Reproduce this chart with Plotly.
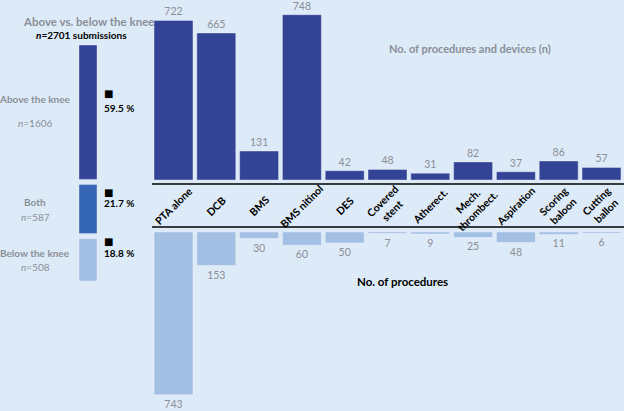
import plotly.graph_objects as go

# ---------------- data ----------------
categories = ["PTA alone", "DCB", "BMS", "BMS nitinol", "DES", "Covered stent",
              "Atherect.", "Mech. thrombect.", "Aspiration", "Scoring baloon", "Cutting ballon"]
category_labels = ["PTA alone", "DCB", "BMS", "BMS nitinol", "DES", "Covered<br>stent",
                   "Atherect.", "Mech.<br>thrombect.", "Aspiration", "Scoring<br>baloon", "Cutting<br>ballon"]
above_knee = [722, 665, 131, 748, 42, 48, 31, 82, 37, 86, 57]
below_knee = [743, 153, 30, 60, 50, 7, 9, 25, 48, 11, 6]

segments = ["Above the knee", "Both", "Below the knee"]
segment_n = [1606, 587, 508]
segment_pct = [59.5, 21.7, 18.8]
total_submissions = 2701

# ---------------- style ----------------
W, H = 624, 411
BG = "#DDEAF7"
DARK = "#334497"
MID = "#3567B6"
LIGHT = "#A3BFE4"
GREY = "#8A8F98"
FONT = "Lato"

def px(x):
    return x / W

def py(y):
    return 1 - y / H

fig = go.Figure()

# upper bars (above the knee)
fig.add_trace(go.Bar(
    x=categories, y=above_knee, width=0.91,
    marker=dict(color=DARK, line=dict(color="rgba(255,255,255,0.35)", width=1)),
    text=[str(v) for v in above_knee], textposition="outside", cliponaxis=False,
    textfont=dict(color=GREY, size=10.5, family=FONT),
    xaxis="x", yaxis="y", showlegend=False, hoverinfo="x+y"))

# lower bars (below the knee)
fig.add_trace(go.Bar(
    x=categories, y=below_knee, width=0.91,
    marker=dict(color=LIGHT, line=dict(color="rgba(255,255,255,0.35)", width=1)),
    text=[str(v) for v in below_knee], textposition="outside", cliponaxis=False,
    textfont=dict(color=GREY, size=10.5, family=FONT),
    xaxis="x2", yaxis="y2", showlegend=False, hoverinfo="x+y"))

# left stacked panel
gap = 60
bases = []
acc = 0
for n in segment_n:
    bases.append(acc)
    acc += n + gap
fig.add_trace(go.Bar(
    x=[0, 0, 0], y=segment_n, base=bases, width=0.91,
    marker=dict(color=[DARK, MID, LIGHT], line=dict(color="rgba(255,255,255,0.35)", width=1)),
    xaxis="x3", yaxis="y3", showlegend=False, hovertext=segments, hoverinfo="text+y"))

x_dom = [px(152.1), px(622.9)]
scale_top = 0.221
scale_bot = 0.219
scale_left = 0.0837
left_top = 45

fig.update_layout(
    width=W, height=H,
    margin=dict(l=0, r=0, t=0, b=0),
    paper_bgcolor=BG, plot_bgcolor="rgba(0,0,0,0)",
    font=dict(family=FONT),
    barmode="overlay",
    xaxis=dict(domain=x_dom, range=[-0.5, 10.5], visible=False, type="category"),
    yaxis=dict(domain=[py(180), 1], range=[0, 180 / scale_top], visible=False),
    xaxis2=dict(domain=x_dom, range=[-0.5, 10.5], visible=False, type="category", anchor="y2"),
    yaxis2=dict(domain=[0, py(232)], range=[(H - 232) / scale_bot, 0], visible=False, anchor="x2"),
    xaxis3=dict(domain=[px(78.1), px(97.9)], range=[-0.5, 0.5], visible=False, anchor="y3"),
    yaxis3=dict(domain=[0, 1], range=[(H - left_top) / scale_left, -left_top / scale_left],
                visible=False, anchor="x3"),
)

# separator lines
for yline in (184, 227):
    fig.add_shape(type="line", xref="paper", yref="paper",
                  x0=px(152), x1=1, y0=py(yline), y1=py(yline),
                  line=dict(color="black", width=1.6))

ann = []
# category labels, rotated
for cat, lab in zip(categories, category_labels):
    ann.append(dict(x=cat, xref="x", y=py(206), yref="paper", text="<b>" + lab + "</b>",
                    textangle=-45, font=dict(size=10.5, color="black", family=FONT)))

# titles
ann.append(dict(x=px(88), y=py(21), text="<b>Above vs. below the knee</b>",
                font=dict(size=11.5, color=GREY, family=FONT)))
ann.append(dict(x=px(81), y=py(35), text=f"<b><i>n</i>={total_submissions} submissions</b>",
                font=dict(size=10, color="black", family=FONT)))
ann.append(dict(x=px(470), y=py(49), text="<b>No. of procedures and devices (n)</b>",
                font=dict(size=11, color=GREY, family=FONT)))
ann.append(dict(x=px(402), y=py(281), text="<b>No. of procedures</b>",
                font=dict(size=11.5, color="black", family=FONT)))

# left labels
label_y = [(99, 123), (202, 217), (253, 267)]
for name, n, (y1, y2) in zip(segments, segment_n, label_y):
    ann.append(dict(x=px(35), y=py(y1), text="<b>" + name + "</b>",
                    font=dict(size=10, color=GREY, family=FONT)))
    ann.append(dict(x=px(35), y=py(y2), text=f"<i>n</i>={n}",
                    font=dict(size=10, color=GREY, family=FONT)))

# percent labels
pct_y = [(93, 108), (192, 203), (242, 253)]
for pct, (ys, yt) in zip(segment_pct, pct_y):
    ann.append(dict(x=px(102), y=py(ys), xanchor="left", text="■",
                    font=dict(size=10, color="black", family="DejaVu Sans")))
    ann.append(dict(x=px(102), y=py(yt), xanchor="left", text=f"<b>{pct} %</b>",
                    font=dict(size=10, color="black", family=FONT)))

for a in ann:
    a.setdefault("xref", "paper")
    a.setdefault("yref", "paper")
    a.setdefault("xanchor", "center")
    a.setdefault("yanchor", "middle")
    a.setdefault("showarrow", False)
    fig.add_annotation(**a)

fig.write_html("out.html", config={"displayModeBar": False},
               post_script="document.body.style.margin='0';")
